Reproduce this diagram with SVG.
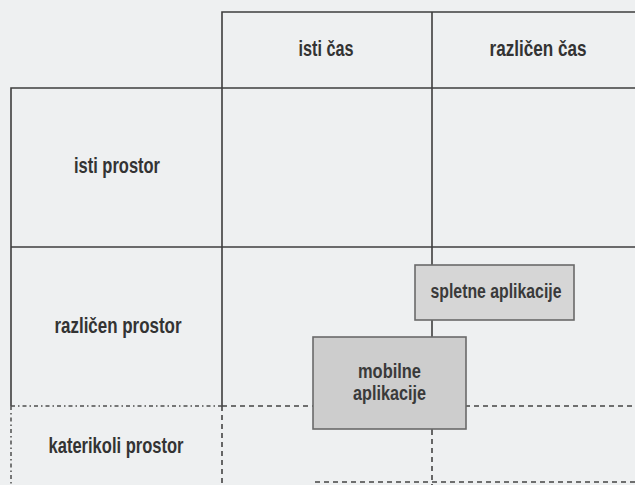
<svg xmlns="http://www.w3.org/2000/svg" width="635" height="485" viewBox="0 0 635 485">
  <style>
    .bg { fill: #eef0f1; }
    .grid { stroke: #3e3e3e; stroke-width: 1.6; fill: none; }
    .dash { stroke: #444; stroke-width: 1.6; fill: none; stroke-dasharray: 5 4; }
    .dashdot { stroke: #4e4e4e; stroke-width: 1.5; fill: none; stroke-dasharray: 4 3 1.5 3; }
    .box { stroke: #6a6a6a; stroke-width: 1.6; }
    .lbl { font-family: "Liberation Sans", Arial, sans-serif; font-size: 22px; font-weight: bold; fill: #333; text-anchor: middle; }
    .blbl { font-family: "Liberation Sans", Arial, sans-serif; font-size: 19.5px; font-weight: bold; fill: #3a3a3a; text-anchor: middle; }
  </style>

  <rect class="bg" x="0" y="0" width="635" height="485"/>

  <!-- grid of time / place cells -->
  <g id="connectors">
    <!-- solid frame -->
    <path class="grid" d="M222,406 V12 H635"/>
    <path class="grid" d="M11,406 V88 H635"/>
    <path class="grid" d="M11,247 H635"/>
    <path class="grid" d="M432,12 V430"/>
    <!-- open "any place" row -->
    <path class="dashdot" d="M11,406 H222"/>
    <path class="dashdot" d="M11,406 V485"/>
    <path class="dash" d="M222,406 H635"/>
    <path class="dash" d="M222,406 V485"/>
    <path class="dash" d="M432,430 V485"/>
    <path class="dash" d="M315,482 H635"/>
  </g>

  <!-- header labels -->
  <g id="col-isti-cas">
    <text class="lbl" x="326" y="56" textLength="55" lengthAdjust="spacingAndGlyphs">isti čas</text>
  </g>
  <g id="col-razlicen-cas">
    <text class="lbl" x="538" y="56" textLength="97" lengthAdjust="spacingAndGlyphs">različen čas</text>
  </g>
  <g id="row-isti-prostor">
    <text class="lbl" x="117" y="173" textLength="86" lengthAdjust="spacingAndGlyphs">isti prostor</text>
  </g>
  <g id="row-razlicen-prostor">
    <text class="lbl" x="118" y="333" textLength="127" lengthAdjust="spacingAndGlyphs">različen prostor</text>
  </g>
  <g id="row-katerikoli-prostor">
    <text class="lbl" x="116" y="453" textLength="135" lengthAdjust="spacingAndGlyphs">katerikoli prostor</text>
  </g>

  <!-- application boxes -->
  <g id="spletne-aplikacije">
    <rect class="box" x="415" y="265" width="159" height="55" fill="#d6d6d6"/>
    <text class="blbl" x="496" y="298" textLength="131" lengthAdjust="spacingAndGlyphs">spletne aplikacije</text>
  </g>
  <g id="mobilne-aplikacije">
    <rect class="box" x="313" y="337" width="153" height="92" fill="#cdcdcd"/>
    <text class="blbl" x="389.5" y="378" textLength="63" lengthAdjust="spacingAndGlyphs">mobilne</text>
    <text class="blbl" x="389.5" y="400" textLength="73" lengthAdjust="spacingAndGlyphs">aplikacije</text>
  </g>
</svg>
